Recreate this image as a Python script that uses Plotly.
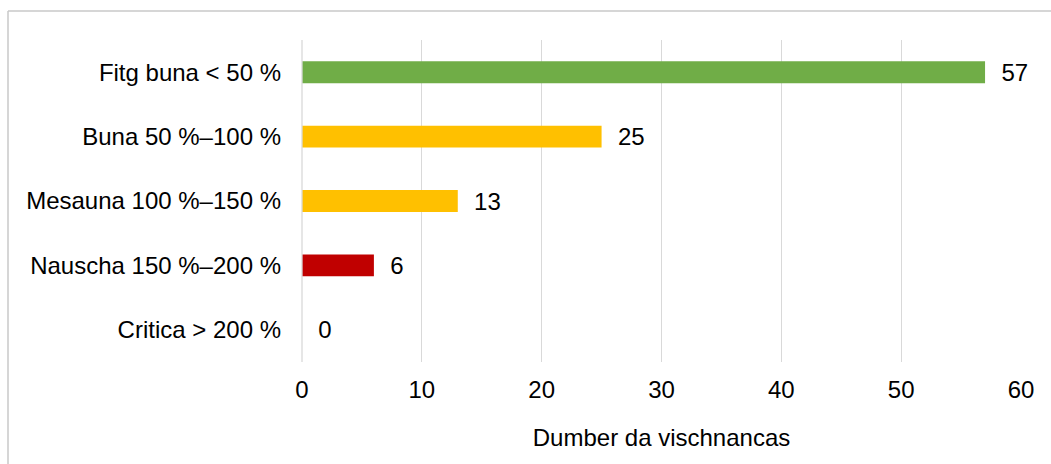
import plotly.graph_objects as go

categories = ["Fitg buna < 50 %", "Buna 50 %–100 %", "Mesauna 100 %–150 %",
              "Nauscha 150 %–200 %", "Critica > 200 %"]
values = [57, 25, 13, 6, 0]
colors = ["#70AD47", "#FFC000", "#FFC000", "#C00000", "#C00000"]
x_ticks = [0, 10, 20, 30, 40, 50, 60]
x_title = "Dumber da vischnancas"

W, H = 1051, 464
L, R, T, B = 302, 30, 40, 102
pw = W - L - R
ph = H - T - B

font = "Liberation Sans, Arial, sans-serif"
FS = 24

fig = go.Figure(go.Bar(
    y=categories, x=values, orientation="h",
    marker=dict(color=colors, line=dict(width=0)),
    text=["\u00a0\u00a0" + str(v) for v in values], textposition="outside",
    textfont=dict(size=FS, color="#000000", family=font),
    constraintext="none",
    cliponaxis=False, width=0.34,
))

fig.update_layout(
    width=W, height=H,
    margin=dict(l=L, r=R, t=T, b=B, autoexpand=False),
    paper_bgcolor="white", plot_bgcolor="white",
    font=dict(family=font, size=FS, color="#000000"),
    showlegend=False,
    xaxis=dict(range=[0, 60], tickvals=x_ticks, showgrid=True,
               gridcolor="#D9D9D9", gridwidth=1.3, zeroline=False,
               showline=False, ticks="", ticklabelstandoff=11,
               title=dict(text=x_title, standoff=27,
                          font=dict(size=FS, family=font))),
    yaxis=dict(categoryorder="array", categoryarray=categories[::-1],
               showgrid=False, zeroline=False, showline=False, ticks="",
               ticklabelstandoff=20),
    shapes=[
        dict(type="line", xref="paper", yref="paper",
             x0=0, x1=0, y0=0, y1=1,
             line=dict(color="#D9D9D9", width=1.3)),
        dict(type="line", xref="paper", yref="paper",
             x0=(8 - L) / pw, x1=(8 - L) / pw,
             y0=(H - B - H - 5) / ph, y1=(H - B - 11) / ph,
             line=dict(color="#C8C8C8", width=1.5)),
        dict(type="line", xref="paper", yref="paper",
             x0=(8 - L) / pw, x1=(W + 5 - L) / pw,
             y0=(H - B - 11) / ph, y1=(H - B - 11) / ph,
             line=dict(color="#C8C8C8", width=1.5)),
    ],
)

fig.write_html("out.html",
               config={"displayModeBar": False},
               post_script="document.body.style.margin='0';"
                           "document.body.style.overflow='hidden';")
